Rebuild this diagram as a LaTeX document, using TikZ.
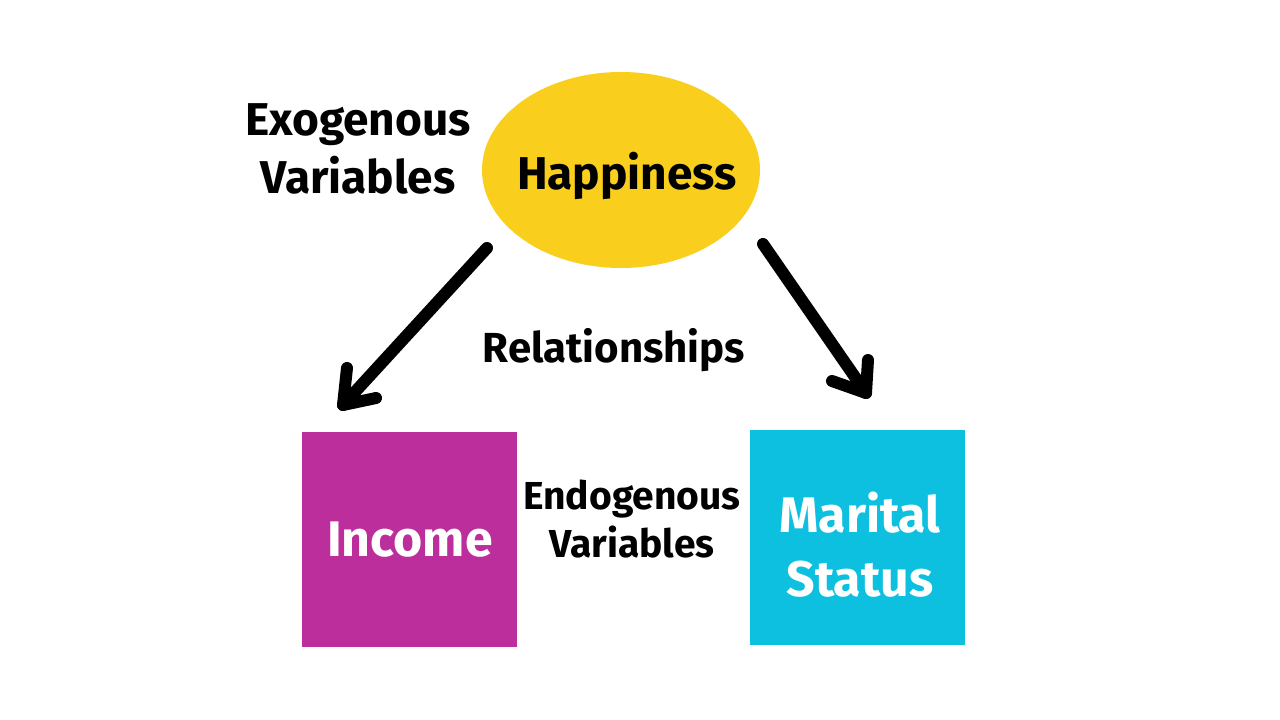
\documentclass[tikz,border=0pt]{standalone}
\usepackage{fontspec}
\setmainfont{Fira Sans}
\usetikzlibrary{shapes.geometric}
\definecolor{sunyellow}{HTML}{F9CE1D}
\definecolor{plum}{HTML}{BC2E9C}
\definecolor{skyblue}{HTML}{0DC0DF}
\tikzset{
  lbl/.style={align=center, inner sep=0pt},
  boxlbl/.style={lbl, font=\fontsize{50}{64}\selectfont\bfseries, text=white},
  varbox/.style={minimum width=215pt, minimum height=215pt, inner sep=0pt},
  arrowline/.style={line width=12pt, line cap=round, line join=round},
}
\begin{document}
\begin{tikzpicture}[x=1pt,y=-1pt]
  \useasboundingbox (0,0) rectangle (1280,720);
  % exogenous variable
  \node[ellipse, fill=sunyellow, minimum width=278pt, minimum height=196pt] (happy) at (621,170) {};
  \node[lbl, font=\fontsize{46}{58}\selectfont\bfseries] (happyt) at (627,176) {Happiness};
  \node[lbl, font=\fontsize{46}{58}\selectfont\bfseries] (exo) at (358,149) {Exogenous\\Variables};
  % endogenous variables
  \node[varbox, fill=plum] (income) at (409.5,539.5) {};
  \node[boxlbl] (incomet) at (410,540) {Income};
  \node[varbox, fill=skyblue] (marital) at (857.5,537.5) {};
  \node[boxlbl] (maritalt) at (860,545) {Marital\\Status};
  \node[lbl, font=\fontsize{39}{48}\selectfont\bfseries] (endo) at (632,519) {Endogenous\\Variables};
  \node[lbl, font=\fontsize{42}{50}\selectfont\bfseries] (rel) at (614,350) {Relationships};
  % causal arrows
  \coordinate (ls) at (487,248);
  \coordinate (lt) at (343,405);
  \coordinate (lb1) at (347,368);
  \coordinate (lb2) at (376,398);
  \coordinate (rs) at (763,244);
  \coordinate (rt) at (866,393);
  \coordinate (rb1) at (868,360);
  \coordinate (rb2) at (832,381);
  \draw[arrowline] (ls) -- (lt);
  \draw[arrowline] (lb1) -- (lt) -- (lb2);
  \draw[arrowline] (rs) -- (rt);
  \draw[arrowline] (rb1) -- (rt) -- (rb2);
\end{tikzpicture}
\end{document}
